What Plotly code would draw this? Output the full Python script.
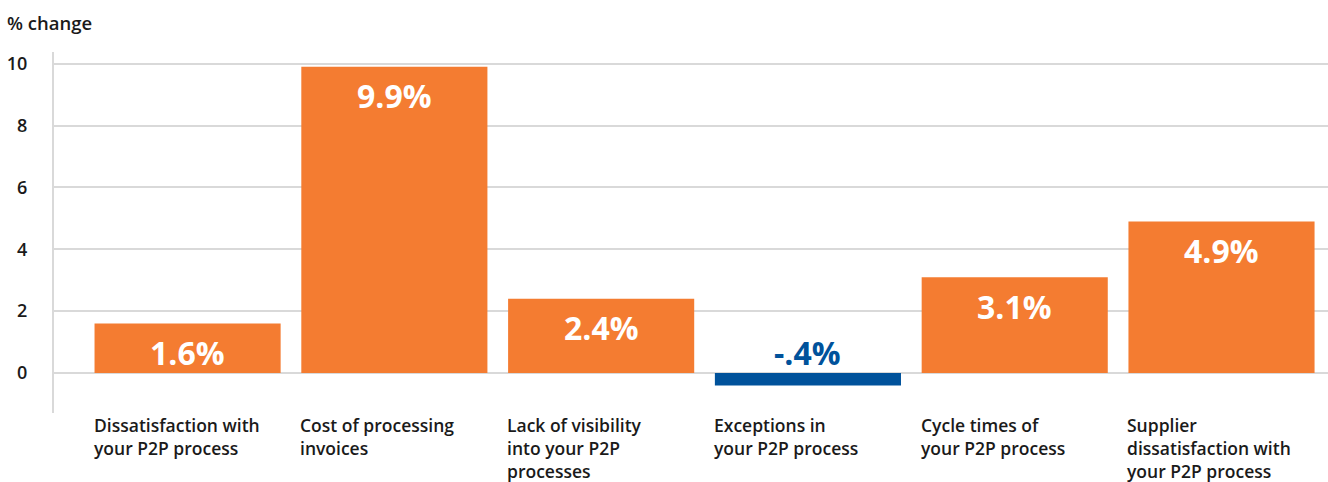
import plotly.graph_objects as go

# Survey results: % change per P2P pain point
categories = [
    "Dissatisfaction with<br>your P2P process",
    "Cost of processing<br>invoices",
    "Lack of visibility<br>into your P2P<br>processes",
    "Exceptions in<br>your P2P process",
    "Cycle times of<br>your P2P process",
    "Supplier<br>dissatisfaction with<br>your P2P process",
]
values = [1.6, 9.9, 2.4, -0.4, 3.1, 4.9]
value_labels = ["1.6%", "9.9%", "2.4%", "-.4%", "3.1%", "4.9%"]
y_ticks = [0, 2, 4, 6, 8, 10]

ORANGE = "#F47C31"
BLUE = "#00529B"
GRID = "#d9d9d9"
TEXT = "#1a1a1a"
FONT = "Open Sans"
BAR_W = 0.9

xs = list(range(len(values)))
colors = [ORANGE if v >= 0 else BLUE for v in values]

fig = go.Figure(
    go.Bar(
        x=xs,
        y=values,
        width=BAR_W,
        marker=dict(color=colors, line=dict(width=0)),
        hoverinfo="skip",
    )
)

annotations = []
for x, v, lab in zip(xs, values, value_labels):
    if v >= 0:
        annotations.append(dict(
            x=x, y=v, xref="x", yref="y", text=f"<b>{lab}</b>",
            showarrow=False, yanchor="middle", yshift=-29,
            font=dict(family=FONT, size=32, color="white"),
        ))
    else:
        annotations.append(dict(
            x=x, y=0, xref="x", yref="y", text=f"<b>{lab}</b>",
            showarrow=False, yanchor="middle", yshift=21,
            font=dict(family=FONT, size=32, color=BLUE),
        ))

# category labels, left-aligned under each bar
for x, cat in zip(xs, categories):
    annotations.append(dict(
        x=x - BAR_W / 2, y=0, xref="x", yref="paper", text=cat,
        showarrow=False, xanchor="left", yanchor="top", align="left",
        xshift=-3, yshift=2,
        font=dict(family=FONT, size=17.5, color=TEXT, weight=600),
    ))

annotations.append(dict(
    x=0, y=1, xref="paper", yref="paper", text="% change",
    showarrow=False, xanchor="left", yanchor="bottom",
    xshift=-49, yshift=15,
    font=dict(family=FONT, size=18.5, color=TEXT, weight=600),
))

fig.update_layout(
    width=1328,
    height=482,
    margin=dict(l=54, r=0, t=52, b=69),
    paper_bgcolor="white",
    plot_bgcolor="white",
    showlegend=False,
    annotations=annotations,
    xaxis=dict(
        range=[-0.646, 5.515],
        showticklabels=False,
        showgrid=False,
        zeroline=False,
        showline=False,
        fixedrange=True,
    ),
    yaxis=dict(
        range=[-1.29, 10.375],
        tickvals=y_ticks,
        ticktext=[str(t) for t in y_ticks],
        showgrid=True,
        gridcolor=GRID,
        gridwidth=2,
        zeroline=True,
        zerolinecolor=GRID,
        zerolinewidth=2,
        showline=True,
        linecolor=GRID,
        linewidth=2,
        ticks="",
        ticklabelstandoff=21,
        tickfont=dict(family=FONT, size=18, color=TEXT, weight=600),
        fixedrange=True,
    ),
)

fig.write_html("out.html", config={"displayModeBar": False})
